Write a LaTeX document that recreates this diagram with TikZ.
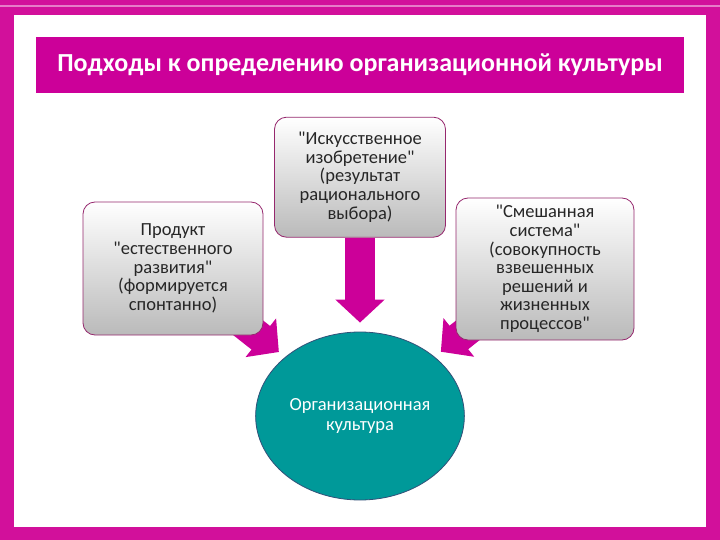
\documentclass[tikz,border=0pt]{standalone}
\usepackage{fontspec}
\setmainfont{Carlito}
\usepackage{tikz}
\usetikzlibrary{arrows.meta,positioning,shapes.geometric,backgrounds}
\usepackage{xcolor}
\definecolor{frame}{RGB}{210,16,155}
\definecolor{bar}{RGB}{204,0,153}
\definecolor{sea}{RGB}{0,153,153}
\definecolor{rim}{RGB}{150,40,110}
\newcommand{\qt}{\textquotedbl}

\begin{document}
\begin{tikzpicture}[
    x=1pt,y=-1pt,
    box/.style={rectangle,draw=rim,line width=0.8pt,rounded corners=12pt,
                top color=white,bottom color=black!27,align=center,
                font=\fontsize{18.5}{18.6}\selectfont,text=black!85},
    fat/.style={draw=bar,line width=30pt,-{Triangle[width=48pt,length=23pt]}},
    >=Latex,thick
  ]
    \useasboundingbox (0,0) rectangle (720,540);
    % frame and title
    \begin{scope}[on background layer]
      \fill[frame] (0,0) rectangle (720,540);
      \fill[white] (14,15) rectangle (706,527);
      \draw[frame!55,line width=1.2pt] (0,6) -- (720,6);
    \end{scope}
    \node[fill=bar,minimum width=648pt,minimum height=56pt,text=white,
          font=\fontsize{26}{30}\selectfont\bfseries] (T) at (360,65)
          {Подходы к определению организационной культуры};

    \node[ellipse,draw={rgb,255:red,50;green,80;blue,120},fill=sea,line width=0.8pt,
          minimum width=205pt,minimum height=168pt,text=white,align=center,
          font=\fontsize{18.5}{20}\selectfont] (O) at (360,416)
          {Организационная\\культура};
    \node[box,minimum width=171pt,minimum height=120pt,above=94pt of O] (A)
          {\qt Искусственное\\изобретение\qt\\(результат\\рационального\\выбора)};
    \node[box,minimum width=180pt,minimum height=133pt] (P) at (173,268.5)
          {Продукт\\\qt естественного\\развития\qt\\(формируется\\спонтанно)};
    \node[box,minimum width=178pt,minimum height=142pt] (M) at (545,269)
          {\qt Смешанная\\система\qt\\(совокупность\\взвешенных\\решений и\\жизненных\\процессов\qt};

    % arrows behind the boxes
    \begin{scope}[on background layer]
      \draw[fat,shorten >=9pt] (A) -- (O);
      \draw[fat,shorten >=8pt] (P.center) -- (O);
      \draw[fat,shorten >=8pt] (M.center) -- (O);
    \end{scope}
  \end{tikzpicture}
\end{document}
